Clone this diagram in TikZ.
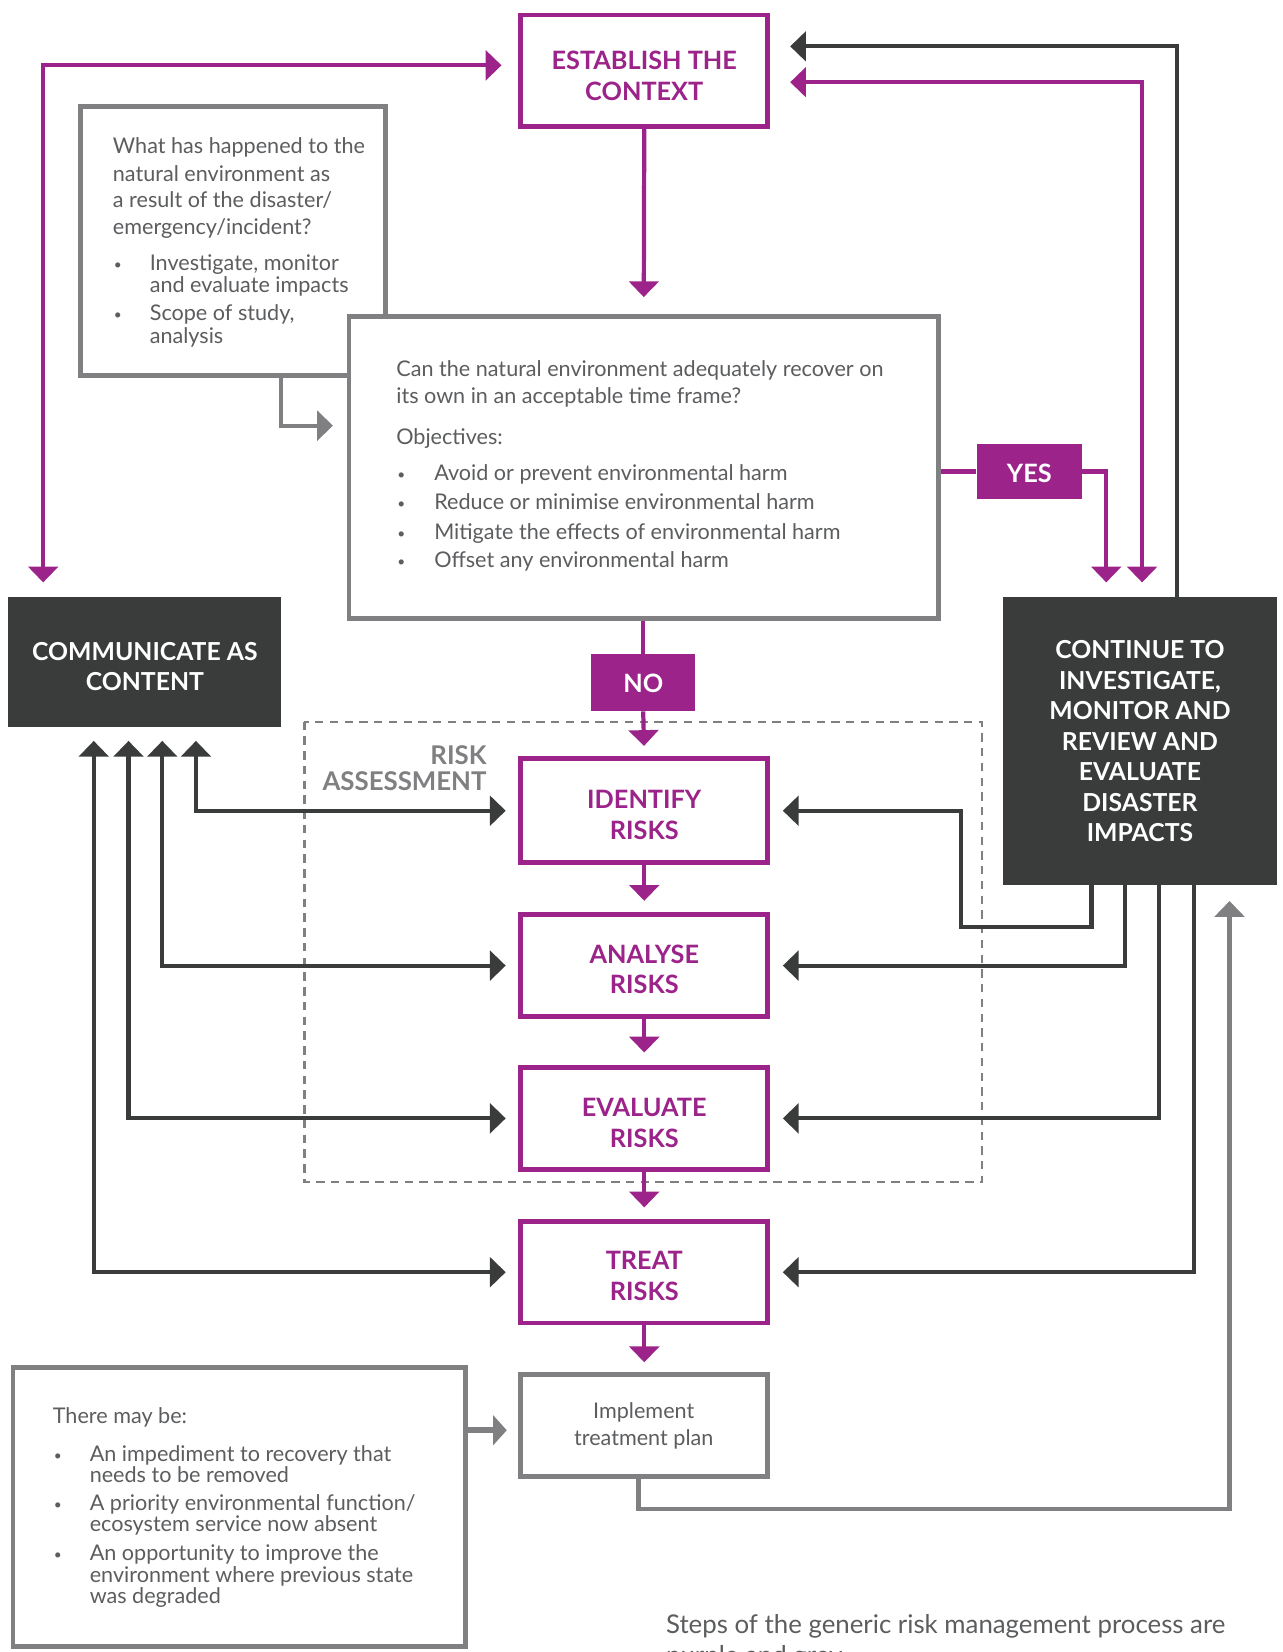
\documentclass[tikz,border=0pt]{standalone}
\usepackage{fontspec}
\setmainfont{Lato}
\usetikzlibrary{arrows.meta,calc}
\definecolor{mag}{RGB}{155,35,137}
\definecolor{dk}{RGB}{58,59,59}
\definecolor{gb}{RGB}{128,128,130}
\definecolor{gt}{RGB}{92,93,95}
\begin{document}
\begin{tikzpicture}[x=1pt,y=-1pt,
  Tri/.tip={Triangle[width=28pt,length=15pt]},
  base/.style={line width=4.5pt, inner sep=0pt},
  magbox/.style={base, draw=mag, fill=white, minimum width=234.5pt},
  magtext/.style={inner sep=0pt, text=mag, align=center, font=\bfseries\fontsize{24}{29}\selectfont},
  greybox/.style={base, draw=gb, fill=white},
  darkbox/.style={inner sep=0pt, fill=dk},
  darktext/.style={inner sep=0pt, text=white, align=center, font=\bfseries\fontsize{23.5}{29}\selectfont},
  tagbox/.style={inner sep=0pt, fill=mag},
  tagtext/.style={inner sep=0pt, text=white, font=\bfseries\fontsize{24}{29}\selectfont},
  body/.style={inner sep=0pt, text=gt, font=\fontsize{20.5}{25}\selectfont, anchor=base west},
  bul/.style={inner sep=0pt, text=gt, font=\fontsize{13}{13}\selectfont, anchor=base west},
  ml/.style={draw=mag, line width=4pt},
  dl/.style={draw=dk, line width=4pt},
  gl/.style={draw=gb, line width=4pt},
]
\useasboundingbox[fill=white] (0,0) rectangle (1217,1568);

% ---------- boxes ----------
\node[greybox, minimum width=289.5pt, minimum height=255.5pt] (q1) at (221,229) {};
\node[greybox, minimum width=559.5pt, minimum height=286.5pt] (q2) at (611,443.5) {};
\node[magbox, minimum height=105.5pt] (est) at (611.5,67) {};
\node[magtext] (estt) at ([yshift=-5pt]est.center) {ESTABLISH THE\\CONTEXT};
\node[tagbox, minimum width=100pt, minimum height=53pt] (yes) at (977,447.5) {};
\node[tagtext] (yest) at ([yshift=-1.5pt]yes.center) {YES};
\node[darkbox, minimum width=259pt, minimum height=123pt] (comm) at (137.5,628.5) {};
\node[darktext] (commt) at ([yshift=-4pt]comm.center) {COMMUNICATE AS\\CONTENT};
\node[darkbox, minimum width=260pt, minimum height=273pt] (cont) at (1082,703.5) {};
\node[darktext] (contt) at (cont.center) {CONTINUE TO\\INVESTIGATE,\\MONITOR AND\\REVIEW AND\\EVALUATE\\DISASTER\\IMPACTS};
\node[tagbox, minimum width=99pt, minimum height=54pt] (no) at (610.5,648) {};
\node[tagtext] (not) at ([yshift=-1pt]no.center) {NO};

\draw[gb, line width=2pt, dash pattern=on 8pt off 6pt] (289,685) rectangle (932,1122);
\node[inner sep=0pt, text=gb, align=right, anchor=east, font=\bfseries\fontsize{24.5}{25}\selectfont] (ra) at (462,729) {RISK\\ASSESSMENT};

\node[magbox, minimum height=98.5pt] (id) at (611.5,769.5) {};
\node[magtext] (idt) at ([yshift=-4pt]id.center) {IDENTIFY\\RISKS};
\node[magbox, minimum height=96.5pt] (an) at (611.5,916.5) {};
\node[magtext] (ant) at ([yshift=-3.5pt]an.center) {ANALYSE\\RISKS};
\node[magbox, minimum height=96.5pt] (ev) at (611.5,1061.5) {};
\node[magtext] (evt) at ([yshift=-4.5pt]ev.center) {EVALUATE\\RISKS};
\node[magbox, minimum height=96.5pt] (tr) at (611.5,1207.5) {};
\node[magtext] (trt) at ([yshift=-3.5pt]tr.center) {TREAT\\RISKS};
\node[greybox, minimum width=234.5pt, minimum height=97.5pt] (impl) at (611.5,1353) {};
\node[greybox, minimum width=429.5pt, minimum height=264.5pt] (q3) at (227,1430.5) {};

% ---------- texts ----------
\node[body] (a1) at (107,146) {What has happened to the};
\node[body] (a2) at (107,172) {natural environment as};
\node[body] (a3) at (107,197) {a result of the disaster/};
\node[body] (a4) at (107,223) {emergency/incident?};
\node[bul] (ab1) at (108,256) {•};
\node[body] (a5) at (142,257) {Investigate, monitor};
\node[body] (a6) at (142,278) {and evaluate impacts};
\node[bul] (ab2) at (108,303) {•};
\node[body] (a7) at (142,304) {Scope of study,};
\node[body] (a8) at (142,326) {analysis};

\node[body] (b1) at (376,357) {Can the natural environment adequately recover on};
\node[body] (b2) at (376,383) {its own in an acceptable time frame?};
\node[body] (b3) at (376,422) {Objectives:};
\node[bul] (bb1) at (377,455) {•};
\node[body] (b4) at (412,456) {Avoid or prevent environmental harm};
\node[bul] (bb2) at (377,483) {•};
\node[body] (b5) at (412,484) {Reduce or minimise environmental harm};
\node[bul] (bb3) at (377,511) {•};
\node[body] (b6) at (412,512) {Mitigate the effects of environmental harm};
\node[bul] (bb4) at (377,538) {•};
\node[body] (b7) at (412,539) {Offset any environmental harm};

\node[body, anchor=base] (i1) at (611,1346) {Implement};
\node[body, anchor=base] (i2) at (611,1372) {treatment plan};

\node[body] (c1) at (50,1351) {There may be:};
\node[bul] (cb1) at (51,1386) {•};
\node[body] (c2) at (85,1387) {An impediment to recovery that};
\node[body] (c3) at (85,1407) {needs to be removed};
\node[bul] (cb2) at (51,1433) {•};
\node[body] (c4) at (85,1434) {A priority environmental function/};
\node[body] (c5) at (85,1454) {ecosystem service now absent};
\node[bul] (cb3) at (51,1480) {•};
\node[body] (c6) at (85,1481) {An opportunity to improve the};
\node[body] (c7) at (85,1502) {environment where previous state};
\node[body] (c8) at (85,1522) {was degraded};

\node[body, font=\fontsize{24.5}{28}\selectfont] (cap1) at (632,1550) {Steps of the generic risk management process are};
\node[body, font=\fontsize{24.5}{28}\selectfont] (cap2) at (632,1580) {purple and grey.};

% ---------- coordinates ----------
\coordinate (xL) at (41,0);
\coordinate (xC2) at (1117,0);
\coordinate (xC3) at (1084,0);
\coordinate (xQ1) at (267,0);
\coordinate (xY) at (1050,0);
\coordinate (xl1) at (186,0);
\coordinate (xl2) at (154,0);
\coordinate (xl3) at (122,0);
\coordinate (xl4) at (89,0);
\coordinate (r1a) at (1036,880);
\coordinate (r1b) at (912,880);
\coordinate (xr2) at (1068,0);
\coordinate (xr3) at (1100,0);
\coordinate (xr4) at (1133,0);
\coordinate (xI) at (606,0);
\coordinate (g1) at (1167,1432);
\coordinate (yq) at (0,1357.5);

% ---------- connectors ----------
\draw[ml, {Tri}-{Tri}, shorten <=14pt, shorten >=16pt] (xL |- comm.north) |- ([yshift=5pt]est.west);
\draw[dl, -{Tri}, shorten >=19pt] (xC2 |- cont.north) |- ([yshift=23pt]est.east);
\draw[ml, {Tri}-{Tri}, shorten <=19pt, shorten >=14pt] ([yshift=-11pt]est.east) -| (xC3 |- cont.north);
\draw[ml, -{Tri}, shorten >=16pt] (est.south) -- (q2.north);
\draw[gl, -{Tri}, shorten >=13pt] (xQ1 |- q1.south) |- ([yshift=39.5pt]q2.west);
\draw[ml] (yes.west -| q2.east) -- (yes.west);
\draw[ml, -{Tri}, shorten >=14pt] (yes.east) -| (xY |- cont.north);
\draw[ml] (q2.south -| no.north) -- (no.north);
\draw[ml, -{Tri}, shorten >=10pt] (no.south) -- (id.north);
\draw[ml, -{Tri}, shorten >=11pt] (id.south) -- (an.north);
\draw[ml, -{Tri}, shorten >=12pt] (an.south) -- (ev.north);
\draw[ml, -{Tri}, shorten >=11pt] (ev.south) -- (tr.north);
\draw[ml, -{Tri}, shorten >=9pt] (tr.south) -- (impl.north);

\draw[dl, {Tri}-{Tri}, shorten <=13pt, shorten >=12pt] (xl1 |- comm.south) |- (id.west);
\draw[dl, {Tri}-{Tri}, shorten <=13pt, shorten >=12pt] (xl2 |- comm.south) |- (an.west);
\draw[dl, {Tri}-{Tri}, shorten <=13pt, shorten >=12pt] (xl3 |- comm.south) |- (ev.west);
\draw[dl, {Tri}-{Tri}, shorten <=13pt, shorten >=12pt] (xl4 |- comm.south) |- (tr.west);

\draw[dl, -{Tri}, shorten >=12pt] (r1a |- cont.south) -- (r1a) -- (r1b) |- (id.east);
\draw[dl, -{Tri}, shorten >=12pt] (xr2 |- cont.south) |- (an.east);
\draw[dl, -{Tri}, shorten >=12pt] (xr3 |- cont.south) |- (ev.east);
\draw[dl, -{Tri}, shorten >=12pt] (xr4 |- cont.south) |- (tr.east);

\draw[gl, -{Tri}, shorten >=15pt] (xI |- impl.south) |- (g1) -- (g1 |- cont.south);
\draw[gl, line width=6pt, -{Triangle[width=28pt,length=13pt]}, shorten >=11pt] (q3.east |- yq) -- (impl.west |- yq);
\end{tikzpicture}
\end{document}
